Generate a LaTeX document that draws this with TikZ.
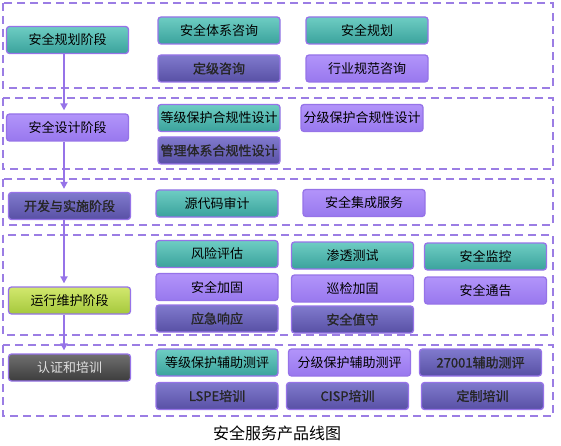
\documentclass[tikz,border=0pt]{standalone}
\usepackage{fontspec}
\newfontfamily\cjk{Noto Sans CJK SC}
\newfontfamily\cjkb[FakeBold=1.2]{Noto Sans CJK SC}
\usetikzlibrary{arrows.meta}
\definecolor{frame}{RGB}{155,125,228}
\definecolor{edge}{RGB}{150,115,232}
\definecolor{tealtop}{RGB}{110,205,195}
\definecolor{tealbot}{RGB}{58,162,156}
\definecolor{liltop}{RGB}{178,148,250}
\definecolor{lilbot}{RGB}{152,120,238}
\definecolor{indtop}{RGB}{128,122,205}
\definecolor{indbot}{RGB}{88,80,165}
\definecolor{limetop}{RGB}{210,232,110}
\definecolor{limebot}{RGB}{165,200,60}
\definecolor{graytop}{RGB}{112,112,112}
\definecolor{graybot}{RGB}{60,60,60}
\tikzset{
  box/.style={draw=edge, line width=1.3pt, rounded corners=3pt,
    minimum width=122pt, minimum height=27pt, inner sep=0pt,
    font=\cjk\fontsize{13}{13}\selectfont, text=black},
  tealbox/.style={box, top color=tealtop, bottom color=tealbot},
  lilbox/.style={box, top color=liltop, bottom color=lilbot},
  indbox/.style={box, top color=indtop, bottom color=indbot,
    font=\cjkb\fontsize{13}{13}\selectfont, text=black!85},
  limebox/.style={box, top color=limetop, bottom color=limebot},
  graybox/.style={box, top color=graytop, bottom color=graybot, text=black!12},
  zone/.style={draw=frame, line width=1.8pt, dash pattern=on 8pt off 5pt},
  flow/.style={draw=edge, line width=2pt, -{Triangle[length=7pt,width=7pt]}, shorten >=3pt}
}
\begin{document}
\begin{tikzpicture}[x=1pt,y=-1pt]
\useasboundingbox (0,0) rectangle (561,446);
% dashed zones
\draw[zone] (3,3) rectangle (553,88);
\draw[zone] (3,98) rectangle (553,169);
\draw[zone] (3,179) rectangle (553,225);
\draw[zone] (3,235) rectangle (553,335);
\draw[zone] (3,345) rectangle (553,416);
% stage boxes
\node[tealbox] (s1) at (67.5,40) {安全规划阶段};
\node[lilbox]  (s2) at (67.5,127.5) {安全设计阶段};
\node[indbox]  (s3) at (69.5,206) {开发与实施阶段};
\node[limebox] (s4) at (69.5,300.5) {运行维护阶段};
\node[graybox] (s5) at (69.5,367.5) {认证和培训};
% arrows
\draw[flow] ([xshift=-3.5pt]s1.south) -- ([xshift=-3.5pt]s2.north);
\draw[flow] ([xshift=-3.5pt]s2.south) -- ([xshift=-5.5pt]s3.north);
\draw[flow] ([xshift=-5.5pt]s3.south) -- ([xshift=-5.5pt]s4.north);
\draw[flow] ([xshift=-5.5pt]s4.south) -- ([xshift=-5.5pt]s5.north);
% zone 1
\node[tealbox] (a1) at (219,30.5) {安全体系咨询};
\node[indbox]  (a2) at (219,68.5) {定级咨询};
\node[tealbox] (a3) at (367,30.5) {安全规划};
\node[lilbox]  (a4) at (367,68.5) {行业规范咨询};
% zone 2
\node[tealbox] (b1) at (219,118) {等级保护合规性设计};
\node[indbox]  (b2) at (219,150.5) {管理体系合规性设计};
\node[lilbox]  (b3) at (362,118) {分级保护合规性设计};
% zone 3
\node[tealbox] (c1) at (217,203.5) {源代码审计};
\node[lilbox]  (c2) at (364,203) {安全集成服务};
% zone 4
\node[tealbox] (d1) at (217,254) {风险评估};
\node[lilbox]  (d2) at (217,287) {安全加固};
\node[indbox]  (d3) at (217,318.5) {应急响应};
\node[tealbox] (d4) at (352.5,255.5) {渗透测试};
\node[lilbox]  (d5) at (352.5,288.5) {巡检加固};
\node[indbox]  (d6) at (352.5,319.5) {安全值守};
\node[tealbox] (d7) at (485.5,256.5) {安全监控};
\node[lilbox]  (d8) at (485.5,290.5) {安全通告};
% zone 5
\node[tealbox] (e1) at (217,362.5) {等级保护辅助测评};
\node[lilbox]  (e2) at (349.5,362.5) {分级保护辅助测评};
\node[indbox]  (e3) at (480.5,362.5) {27001辅助测评};
\node[indbox]  (e4) at (217,396) {LSPE培训};
\node[indbox]  (e5) at (347.5,396) {CISP培训};
\node[indbox]  (e6) at (482.5,396) {定制培训};
% caption
\node[font=\cjk\fontsize{16}{16}\selectfont, inner sep=0pt] (cap) at (277,433.5) {安全服务产品线图};
\end{tikzpicture}
\end{document}
